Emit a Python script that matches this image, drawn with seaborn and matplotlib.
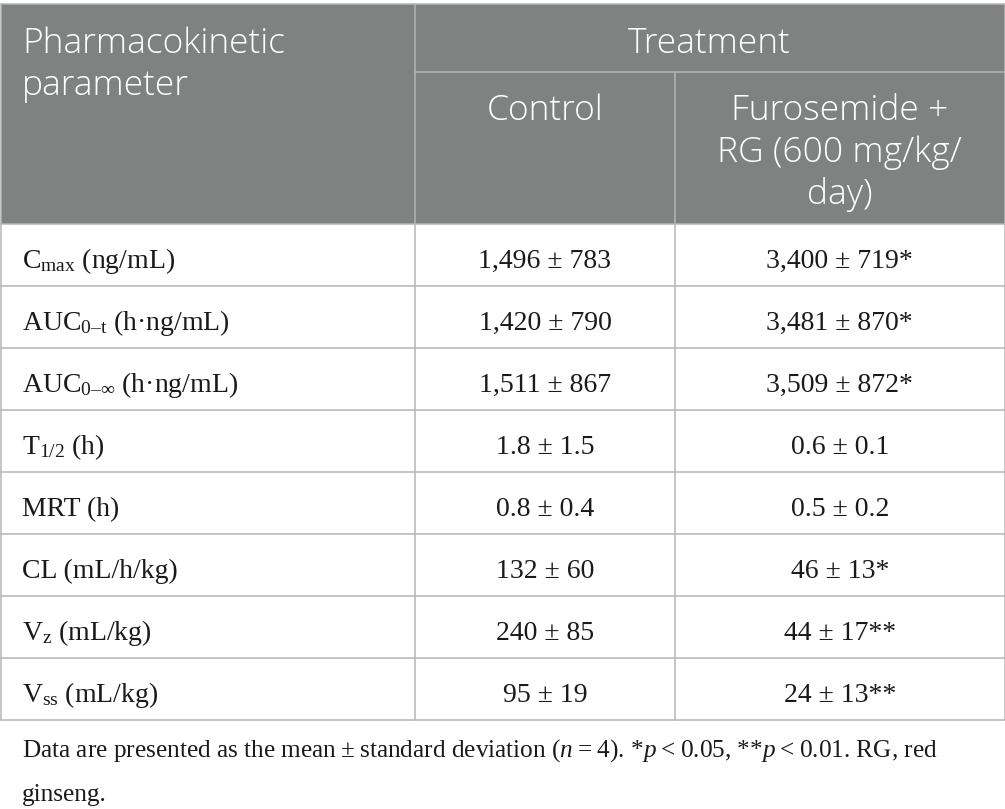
import matplotlib
matplotlib.use("Agg")
import matplotlib.pyplot as plt
from matplotlib.patches import Rectangle
import seaborn as sns

# ---------------- data ----------------
header_param = ["Pharmacokinetic", "parameter"]
header_group = "Treatment"
header_control = ["Control"]
header_treated = ["Furosemide +", "RG (600 mg/kg/", "day)"]

parameters = [
    "C$_{\\mathrm{max}}$ (ng/mL)",
    "AUC$_{\\mathrm{0\u2013t}}$ (h\u00b7ng/mL)",
    "AUC$_{\\mathrm{0\u2013}\\infty}$ (h\u00b7ng/mL)",
    "T$_{\\mathrm{1/2}}$ (h)",
    "MRT (h)",
    "CL (mL/h/kg)",
    "V$_{\\mathrm{z}}$ (mL/kg)",
    "V$_{\\mathrm{ss}}$ (mL/kg)",
]
control_values = [
    "1,496 \u00b1 783", "1,420 \u00b1 790", "1,511 \u00b1 867", "1.8 \u00b1 1.5",
    "0.8 \u00b1 0.4", "132 \u00b1 60", "240 \u00b1 85", "95 \u00b1 19",
]
treated_values = [
    "3,400 \u00b1 719*", "3,481 \u00b1 870*", "3,509 \u00b1 872*", "0.6 \u00b1 0.1",
    "0.5 \u00b1 0.2", "46 \u00b1 13*", "44 \u00b1 17**", "24 \u00b1 13**",
]
footnote = [
    "Data are presented as the mean\u2009\u00b1\u2009standard deviation ($n$\u2009=\u20094). "
    "*$p$\u2009<\u20090.05, **$p$\u2009<\u20090.01. RG, red",
    "ginseng.",
]

# ---------------- style ----------------
sns.set_theme(style="white")
plt.rcParams["font.family"] = ["Liberation Serif", "DejaVu Serif"]
plt.rcParams["mathtext.fontset"] = "custom"
plt.rcParams["mathtext.rm"] = "Liberation Serif"
plt.rcParams["mathtext.it"] = "Liberation Serif:italic"
plt.rcParams["mathtext.bf"] = "Liberation Serif:bold"

HEAD_BG = "#808181"
GRID = "#b5b5b5"
TXT = "#1a1a1a"
HEAD_FONT = ["Open Sans", "DejaVu Sans"]
HEAD_SIZE = 25.5
HEAD_WEIGHT = "light"
BODY_SIZE = 20
FOOT_SIZE = 18.2

W, H = 1005, 809
fig = plt.figure(figsize=(W / 100, H / 100), dpi=100)
ax = fig.add_axes([0, 0, 1, 1])
ax.set_xlim(0, W)
ax.set_ylim(H, 0)
ax.axis("off")

col_edges = [0.5, 415, 675, 1004.5]
head_top, head_mid, head_bot = 4, 72, 224
row_h = 62
n_rows = len(parameters)
body_bot = head_bot + row_h * n_rows
lw = 1.1

# header background
ax.add_patch(Rectangle((col_edges[0], head_top), col_edges[-1] - col_edges[0],
                       head_bot - head_top, facecolor=HEAD_BG, edgecolor="none"))

# grid lines
ax.plot([col_edges[0], col_edges[-1]], [head_top, head_top], color=GRID, lw=lw)
ax.plot([col_edges[1], col_edges[-1]], [head_mid, head_mid], color=GRID, lw=lw)
for i in range(n_rows + 1):
    y = head_bot + row_h * i
    ax.plot([col_edges[0], col_edges[-1]], [y, y], color=GRID, lw=lw)
ax.plot([col_edges[0], col_edges[0]], [head_top, body_bot], color=GRID, lw=lw)
ax.plot([col_edges[-1], col_edges[-1]], [head_top, body_bot], color=GRID, lw=lw)
ax.plot([col_edges[1], col_edges[1]], [head_top, body_bot], color=GRID, lw=lw)
ax.plot([col_edges[2], col_edges[2]], [head_mid, body_bot], color=GRID, lw=lw)

# header text
line_gap = 42
hkw = dict(color="white", family=HEAD_FONT, fontsize=HEAD_SIZE,
           fontweight=HEAD_WEIGHT, va="baseline")
for k, s in enumerate(header_param):
    ax.text(22, 53 + k * line_gap, s, ha="left", **hkw)
ax.text((col_edges[1] + col_edges[3]) / 2, 53, header_group, ha="center", **hkw)
for k, s in enumerate(header_control):
    ax.text((col_edges[1] + col_edges[2]) / 2, 120 + k * line_gap, s, ha="center", **hkw)
for k, s in enumerate(header_treated):
    ax.text((col_edges[2] + col_edges[3]) / 2, 120 + k * line_gap, s, ha="center", **hkw)

# body text
for i in range(n_rows):
    yb = head_bot + row_h * i + 44
    ax.text(22, yb, parameters[i], color=TXT, fontsize=BODY_SIZE,
            ha="left", va="baseline")
    ax.text((col_edges[1] + col_edges[2]) / 2, yb, control_values[i], color=TXT,
            fontsize=BODY_SIZE, ha="center", va="baseline")
    ax.text((col_edges[2] + col_edges[3]) / 2, yb, treated_values[i], color=TXT,
            fontsize=BODY_SIZE, ha="center", va="baseline")

# footnote
for k, s in enumerate(footnote):
    ax.text(22, 757 + k * 44, s, color=TXT, fontsize=FOOT_SIZE,
            ha="left", va="baseline")

fig.savefig("out.png", dpi=100, facecolor="white")
